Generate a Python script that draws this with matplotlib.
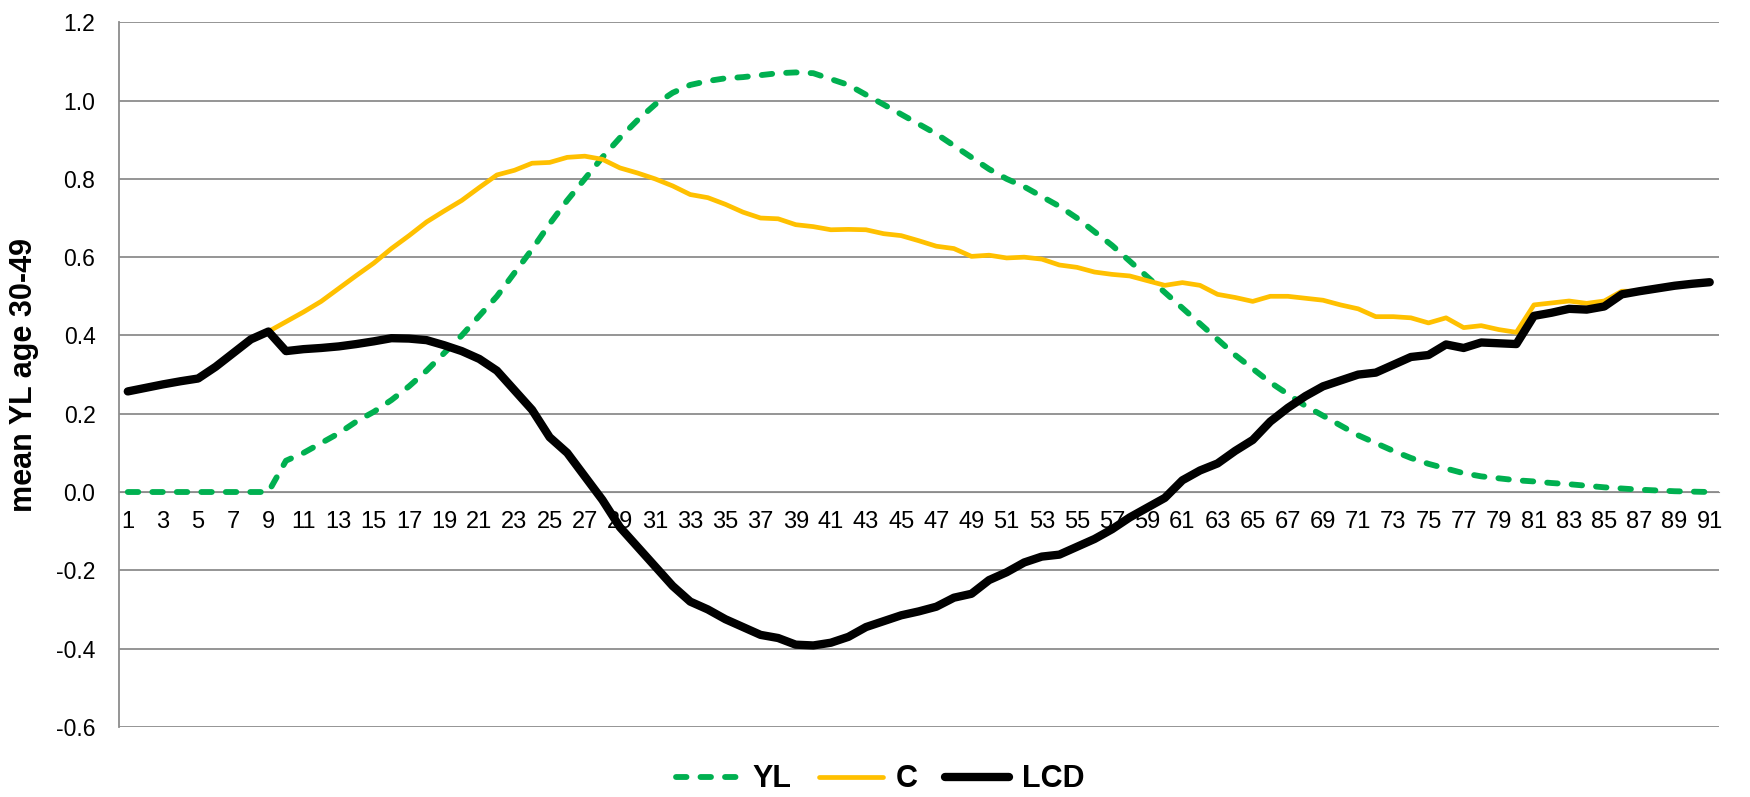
import matplotlib.pyplot as plt
import numpy as np

plt.rcParams['font.family'] = ['Liberation Sans', 'DejaVu Sans']
plt.rcParams['axes.unicode_minus'] = False

# categories 1..91
cats = list(range(1, 92))

yl = [0, 0, 0, 0, 0, 0, 0, 0, 0, 0.08,
      0.10, 0.125, 0.15, 0.18, 0.205, 0.235, 0.27, 0.31, 0.355, 0.40,
      0.45, 0.50, 0.56, 0.62, 0.685, 0.745, 0.80, 0.855, 0.905, 0.95,
      0.99, 1.02, 1.04, 1.05, 1.057, 1.06, 1.065, 1.07, 1.072, 1.07,
      1.055, 1.04, 1.015, 0.99, 0.965, 0.94, 0.915, 0.885, 0.855, 0.825,
      0.80, 0.78, 0.755, 0.73, 0.70, 0.665, 0.63, 0.59, 0.55, 0.51,
      0.47, 0.43, 0.39, 0.35, 0.315, 0.28, 0.25, 0.22, 0.195, 0.17,
      0.145, 0.125, 0.105, 0.087, 0.072, 0.06, 0.048, 0.04, 0.035, 0.03,
      0.027, 0.023, 0.02, 0.016, 0.012, 0.009, 0.006, 0.004, 0.002, 0.001,
      0.0]

lcd = [0.257, 0.266, 0.275, 0.283, 0.29, 0.32, 0.355, 0.39, 0.41, 0.36,
       0.365, 0.368, 0.372, 0.378, 0.385, 0.393, 0.392, 0.388, 0.375, 0.36,
       0.34, 0.31, 0.26, 0.21, 0.14, 0.10, 0.04, -0.02, -0.09, -0.14,
       -0.19, -0.24, -0.28, -0.30, -0.325, -0.345, -0.365, -0.373, -0.39, -0.392,
       -0.385, -0.37, -0.345, -0.33, -0.315, -0.305, -0.293, -0.27, -0.26, -0.225,
       -0.205, -0.18, -0.165, -0.16, -0.14, -0.12, -0.095, -0.065, -0.04, -0.015,
       0.03, 0.055, 0.073, 0.105, 0.133, 0.18, 0.215, 0.245, 0.27, 0.285,
       0.30, 0.305, 0.325, 0.345, 0.35, 0.377, 0.368, 0.382, 0.38, 0.378,
       0.45, 0.458, 0.468, 0.466, 0.474, 0.505, 0.513, 0.52, 0.527, 0.532,
       0.536]

c = [0.257, 0.266, 0.275, 0.283, 0.29, 0.32, 0.355, 0.39, 0.41, 0.435,
     0.46, 0.487, 0.52, 0.553, 0.585, 0.622, 0.655, 0.69, 0.718, 0.745,
     0.778, 0.81, 0.822, 0.84, 0.842, 0.855, 0.858, 0.85, 0.828, 0.815,
     0.80, 0.782, 0.76, 0.752, 0.735, 0.715, 0.70, 0.698, 0.683, 0.678,
     0.67, 0.671, 0.67, 0.66, 0.655, 0.642, 0.628, 0.622, 0.602, 0.605,
     0.598, 0.60, 0.595, 0.58, 0.574, 0.562, 0.556, 0.552, 0.54, 0.528,
     0.535, 0.528, 0.505, 0.497, 0.487, 0.50, 0.50, 0.495, 0.49, 0.478,
     0.468, 0.448, 0.448, 0.445, 0.432, 0.445, 0.42, 0.425, 0.415, 0.408,
     0.478, 0.483, 0.488, 0.482, 0.488, 0.513, 0.513, 0.52, 0.527, 0.532,
     0.536]

yticks = [-0.6, -0.4, -0.2, 0.0, 0.2, 0.4, 0.6, 0.8, 1.0, 1.2]

fig = plt.figure(figsize=(17.5, 7.97), dpi=100)
ax = fig.add_axes([0.068, 0.088, 0.914, 0.884])

ax.plot(cats, yl, color='#00B050', lw=4.2, ls=(0, (1.8, 2.4)),
        dash_capstyle='round', solid_capstyle='round', label='YL', zorder=3)
ax.plot(cats, c, color='#FFC000', lw=3.4, solid_capstyle='round', label='C', zorder=4)
ax.plot(cats, lcd, color='black', lw=6, solid_capstyle='round',
        solid_joinstyle='round', label='LCD', zorder=5)

ax.set_xlim(0.5, 91.5)
ax.set_ylim(-0.6, 1.2)
ax.set_yticks(yticks)
ax.set_yticklabels([f'{v:.1f}' for v in yticks], fontsize=16.5)
ax.grid(axis='y', color='#8c8c8c', lw=1.3, zorder=0)
ax.tick_params(axis='y', length=0, pad=17)

# category axis crossing at zero
ax.spines['bottom'].set_position(('data', 0))
ax.spines['bottom'].set_color('#8c8c8c')
ax.spines['top'].set_visible(False)
ax.spines['right'].set_visible(False)
ax.spines['left'].set_color('#8c8c8c')
ax.spines['left'].set_linewidth(1.3)
ax.set_xticks(cats[::2])
ax.set_xticklabels([str(v) for v in cats[::2]], fontsize=17,
                   family=['Liberation Sans Narrow', 'Liberation Sans', 'DejaVu Sans'])
ax.tick_params(axis='x', length=0, pad=14)

ax.set_ylabel('mean YL age 30-49', fontsize=22, fontweight='bold')
ax.yaxis.set_label_coords(-0.05, 0.5)

leg = fig.legend(loc='center', bbox_to_anchor=(0.503, 0.022), ncol=3,
                 frameon=False, prop={'size': 22, 'weight': 'bold'},
                 handlelength=2.1, columnspacing=0.9, handletextpad=0.4)

fig.savefig('out.png', dpi=100)
